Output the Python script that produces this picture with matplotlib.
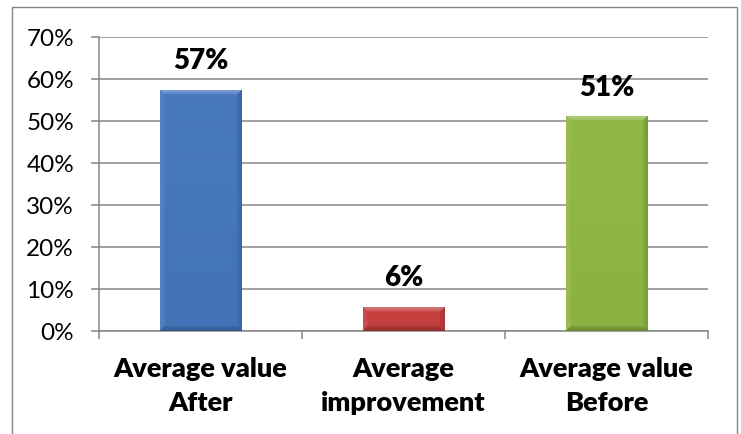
import numpy as np
import matplotlib.pyplot as plt
from matplotlib.patches import Rectangle
from matplotlib.colors import to_rgb
from matplotlib.ticker import PercentFormatter, FixedLocator

# values
categories = ['Average value\nAfter', 'Average\nimprovement', 'Average value\nBefore']
values = [0.575, 0.058, 0.512]
value_labels = ['57%', '6%', '51%']
bar_colors = ['#4577bd', '#c6403f', '#8fb743']

plt.rcParams['font.family'] = ['Lato', 'DejaVu Sans']

GRID = '#868686'
DPI = 100


def bevel_image(color, w_px, h_px, b=5):
    # Excel-ish bevel: light top, light left, dark right and bottom
    c = np.array(to_rgb(color))
    h_px = max(h_px, 2)
    ys, xs = np.mgrid[0:h_px, 0:w_px].astype(float)
    d = np.stack([ys, h_px - 1 - ys, xs, w_px - 1 - xs])
    nearest = d.argmin(axis=0)
    dmin = d.min(axis=0)
    inside = dmin < b
    amt = np.array([0.32, -0.25, 0.08, -0.15])
    t = np.where(inside, amt[nearest] * (1 - dmin / (b * 1.6)), 0.0)
    # soft vertical gradient in the body
    t = t + np.where(inside, 0, 0.05 * (1 - ys / h_px) - 0.03)
    img = np.empty((h_px, w_px, 3))
    for k in range(3):
        light = c[k] + (1 - c[k]) * np.clip(t, 0, None)
        dark = c[k] * (1 + np.clip(t, None, 0))
        img[..., k] = np.where(t >= 0, light, dark)
    return img


fig = plt.figure(figsize=(7.41, 4.34), dpi=DPI)
ax = fig.add_axes([0.1336, 0.2373, 0.8219, 0.6774])

x = np.arange(len(categories))
width = 0.4
ymax = 0.7
bars = ax.bar(x, values, width=width, color=bar_colors, zorder=3, edgecolor='none')

# pixel scale of the axes to size the bevel
ax_w_px = 0.8219 * 7.41 * DPI
ax_h_px = 0.6774 * 4.34 * DPI
for rect, col in zip(bars, bar_colors):
    w_px = int(round(rect.get_width() / 3.0 * ax_w_px))
    h_px = int(round(rect.get_height() / ymax * ax_h_px))
    img = bevel_image(col, w_px, h_px)
    x0 = rect.get_x()
    im = ax.imshow(img, extent=(x0, x0 + rect.get_width(), 0, rect.get_height()),
                   aspect='auto', zorder=4, interpolation='bilinear', origin='upper')
    im.set_clip_path(rect)

for xi, v, lab in zip(x, values, value_labels):
    ax.annotate(lab, (xi, v), xytext=(0, 11), textcoords='offset points',
                ha='center', va='bottom', fontsize=20, fontweight='heavy', color='black')

ax.set_xlim(-0.5, 2.5)
ax.set_ylim(0, ymax)
ax.set_yticks(np.arange(0, 0.71, 0.1))
ax.yaxis.set_major_formatter(PercentFormatter(1.0, decimals=0))
ax.grid(axis='y', color=GRID, linewidth=1.1)
ax.set_axisbelow(True)

ax.set_xticks(x)
ax.set_xticklabels(categories, fontsize=19.5, fontweight='heavy', linespacing=1.5)
ax.xaxis.set_minor_locator(FixedLocator([-0.5, 0.5, 1.5, 2.5]))
ax.tick_params(axis='x', which='major', length=0, pad=19)
ax.tick_params(axis='x', which='minor', length=6, color=GRID, width=1.1)
ax.tick_params(axis='y', length=6, color=GRID, width=1.1, labelsize=17.5, pad=12)

for s in ['top', 'right']:
    ax.spines[s].set_visible(False)
for s in ['left', 'bottom']:
    ax.spines[s].set_color(GRID)
    ax.spines[s].set_linewidth(1.1)

# outer chart frame (bottom edge runs off the picture)
fig.patches.append(Rectangle((0.0158, -0.05), 0.9788, 1.034, transform=fig.transFigure,
                             fill=False, edgecolor=GRID, linewidth=1.0))

fig.savefig('out.png', dpi=DPI)
